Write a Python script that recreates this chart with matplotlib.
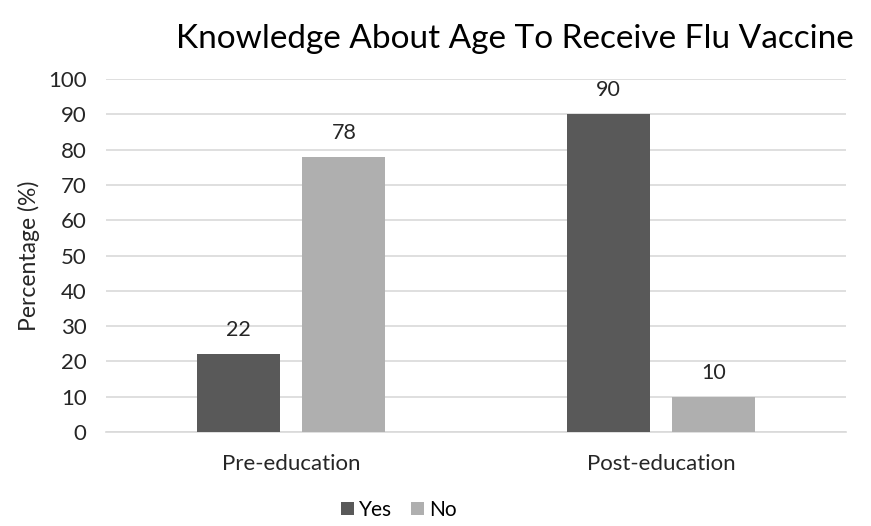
import numpy as np
import matplotlib
matplotlib.use("Agg")
import matplotlib.pyplot as plt

plt.rcParams['font.family'] = ['Lato', 'DejaVu Sans']

categories = ["Pre-education", "Post-education"]
series_names = ["Yes", "No"]
yes_values = [22, 90]
no_values = [78, 10]
y_ticks = [0, 10, 20, 30, 40, 50, 60, 70, 80, 90, 100]

colors = {"Yes": "#595959", "No": "#afafaf"}

fig = plt.figure(figsize=(8.71, 5.26), dpi=100)
ax = fig.add_axes([0.1217, 0.1787, 0.8496, 0.6711])

x = np.arange(len(categories))
width = 0.224
offset = 0.143

bars_yes = ax.bar(x - offset, yes_values, width, color=colors["Yes"], label="Yes", zorder=3)
bars_no = ax.bar(x + offset, no_values, width, color=colors["No"], label="No", zorder=3)

for bars in (bars_yes, bars_no):
    for b in bars:
        h = b.get_height()
        ax.text(b.get_x() + b.get_width() / 2, h + 4, f"{h:g}", ha="center", va="bottom",
                fontsize=15.5, color="#262626")

ax.set_xlim(-0.5, 1.5)
ax.set_ylim(0, 100)
ax.set_yticks(y_ticks)
ax.set_yticklabels([str(t) for t in y_ticks], fontsize=16, color="#262626")
ax.set_xticks(x)
ax.set_xticklabels(categories, fontsize=16, color="#262626")
ax.tick_params(axis="y", length=0, pad=14)
ax.tick_params(axis="x", length=0, pad=16)
ax.grid(axis="y", color="#d9d9d9", linewidth=1.2, zorder=0)
for s in ["top", "right", "left"]:
    ax.spines[s].set_visible(False)
ax.spines["bottom"].set_color("#d9d9d9")
ax.spines["bottom"].set_linewidth(1.2)

ax.set_ylabel("Percentage (%)", fontsize=16.5, color="#262626", labelpad=6)

fig.text(0.591, 0.926, "Knowledge About Age To Receive Flu Vaccine", ha="center", va="center",
         fontsize=24, color="#000000")

fig.legend(handles=[bars_yes, bars_no], labels=series_names, loc="center",
           bbox_to_anchor=(0.458, 0.03), ncol=2, frameon=False, fontsize=15,
           handlelength=0.6, handleheight=0.6, handletextpad=0.25, columnspacing=0.9)

fig.savefig("out.png", dpi=100)
